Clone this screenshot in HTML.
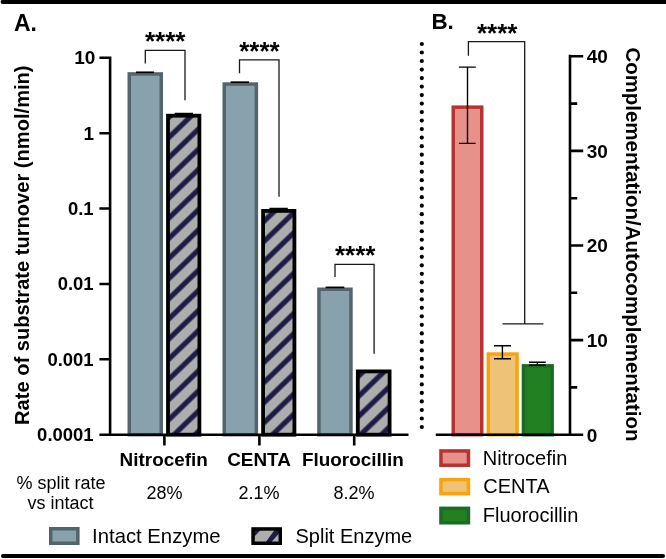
<!DOCTYPE html>
<html><head><meta charset="utf-8">
<style>
html,body{margin:0;padding:0;background:#fff;}
body{width:666px;height:559px;overflow:hidden;font-family:"Liberation Sans",sans-serif;}
svg{display:block;will-change:transform;}
text{font-family:"Liberation Sans",sans-serif;fill:#000;}
.b{font-weight:bold;}
</style></head><body>
<svg width="666" height="559" viewBox="0 0 666 559">
<defs>
<pattern id="h1" width="14.495" height="20" patternUnits="userSpaceOnUse" patternTransform="translate(170,136.4) rotate(46)"><rect width="14.495" height="20" fill="#adadad"/><rect x="0" y="0" width="2.55" height="20" fill="#1d1b47"/><rect x="11.945" y="0" width="2.65" height="20" fill="#1d1b47"/></pattern>
<pattern id="h2" width="14.495" height="20" patternUnits="userSpaceOnUse" patternTransform="translate(264.9,220.4) rotate(46)"><rect width="14.495" height="20" fill="#adadad"/><rect x="0" y="0" width="2.55" height="20" fill="#1d1b47"/><rect x="11.945" y="0" width="2.65" height="20" fill="#1d1b47"/></pattern>
<pattern id="h3" width="14.495" height="20" patternUnits="userSpaceOnUse" patternTransform="translate(359.6,395.3) rotate(46)"><rect width="14.495" height="20" fill="#adadad"/><rect x="0" y="0" width="2.55" height="20" fill="#1d1b47"/><rect x="11.945" y="0" width="2.65" height="20" fill="#1d1b47"/></pattern>
<pattern id="h4" width="14.495" height="20" patternUnits="userSpaceOnUse" patternTransform="translate(262,540) rotate(46)"><rect width="14.495" height="20" fill="#adadad"/><rect x="0" y="0" width="2.55" height="20" fill="#1d1b47"/><rect x="11.945" y="0" width="2.65" height="20" fill="#1d1b47"/></pattern>
</defs>
<rect width="666" height="559" fill="#fff"/>
<line x1="2.7" y1="1.9" x2="666" y2="1.9" stroke="#000" stroke-width="4.2" stroke-linecap="round"/>
<line x1="3" y1="556" x2="663" y2="556" stroke="#000" stroke-width="4" stroke-linecap="round"/>
<text x="14" y="31.3" class="b" font-size="23">A.</text>
<text class="b" font-size="20.1" text-anchor="middle" transform="translate(29.3,245.2) rotate(-90)">Rate of substrate turnover (nmol/min)</text>
<rect x="129.25" y="73.95" width="32.00" height="360.75" fill="#87a2ac" stroke="#53646b" stroke-width="3.5"/>
<rect x="224.25" y="84.05" width="32.10" height="350.65" fill="#87a2ac" stroke="#53646b" stroke-width="3.5"/>
<rect x="318.95" y="289.25" width="32.00" height="145.45" fill="#87a2ac" stroke="#53646b" stroke-width="3.5"/>
<rect x="168.00" y="115.70" width="31.40" height="319.00" fill="url(#h1)" stroke="#000" stroke-width="3.8"/>
<rect x="263.10" y="210.90" width="31.30" height="223.80" fill="url(#h2)" stroke="#000" stroke-width="3.8"/>
<rect x="357.80" y="371.40" width="31.80" height="63.30" fill="url(#h3)" stroke="#000" stroke-width="3.8"/>
<g stroke="#000" stroke-width="1.7">
<line x1="136" y1="72.3" x2="154" y2="72.3"/>
<line x1="174.7" y1="113.6" x2="193" y2="113.6"/>
<line x1="230.6" y1="82.2" x2="249" y2="82.2"/>
<line x1="269.4" y1="208.6" x2="287.8" y2="208.6"/>
<line x1="325.6" y1="287.4" x2="344.3" y2="287.4"/>
</g>
<path d="M110.1 56.5 V434.7 M108.8 434.7 H408.5 M99.4 57.80 H110.1 M99.4 133.18 H110.1 M99.4 208.56 H110.1 M99.4 283.94 H110.1 M99.4 359.32 H110.1 M99.4 434.70 H110.1 M164.4 434.7 V445.5 M259.4 434.7 V445.5 M354.2 434.7 V445.5 " stroke="#000" stroke-width="2.6" fill="none"/>
<g class="b" font-size="19" text-anchor="end">
<text x="95.4" y="64.30">10</text>
<text x="94.2" y="139.68">1</text>
<text x="93.6" y="215.06" textLength="25.67" lengthAdjust="spacingAndGlyphs">0.1</text>
<text x="93.6" y="290.44" textLength="35.94" lengthAdjust="spacingAndGlyphs">0.01</text>
<text x="93.6" y="365.82" textLength="46.21" lengthAdjust="spacingAndGlyphs">0.001</text>
<text x="93.6" y="441.20" textLength="56.49" lengthAdjust="spacingAndGlyphs">0.0001</text>
</g>
<g class="b" font-size="18.9" text-anchor="middle">
<text x="163.7" y="465.7">Nitrocefin</text><text x="259" y="465.7">CENTA</text><text x="352.9" y="465.7">Fluorocillin</text></g>
<g font-size="18" text-anchor="middle">
<text x="61.1" y="489">% split rate</text><text x="60.6" y="509">vs intact</text>
<text x="164.5" y="499">28%</text><text x="259" y="499">2.1%</text><text x="354" y="499">8.2%</text></g>
<g stroke="#1a1a1a" stroke-width="1.3" fill="none">
<path d="M145.3 63.5 V50.3 H185 V100.3"/>
<path d="M239.5 73.2 V59.9 H279 V196.8"/>
<path d="M335 277 V264.4 H374.1 V353.8"/>
<path d="M468.4 55.8 V41.7 H524.7 V323.8 M502.5 323.8 H543.4"/>
</g>
<g class="b" font-size="26">
<text x="145" y="49.8">****</text><text x="239.2" y="59.5">****</text><text x="335" y="263.9">****</text><text x="477" y="41.8">****</text></g>
<rect x="50.75" y="528.75" width="27.10" height="14.50" fill="#87a2ac" stroke="#53646b" stroke-width="3.5"/>
<text x="92.1" y="543" font-size="20.3">Intact Enzyme</text>
<rect x="253" y="529" width="27.5" height="14.5" fill="#adadad"/>
<path d="M254 530 H260.6 L254 537 Z M265.8 542 H271.4 L279 533.4 V530 H274.6 Z" fill="#1d1b47"/>
<rect x="253.05" y="528.95" width="27.20" height="14.30" fill="none" stroke="#000" stroke-width="3.5"/>
<text x="295.5" y="542.6" font-size="20">Split Enzyme</text>
<text x="431.4" y="29.4" class="b" font-size="22.4">B.</text>
<g fill="#000">
<circle cx="421.8" cy="44.00" r="2.1"/>
<circle cx="421.8" cy="52.51" r="2.1"/>
<circle cx="421.8" cy="61.02" r="2.1"/>
<circle cx="421.8" cy="69.53" r="2.1"/>
<circle cx="421.8" cy="78.04" r="2.1"/>
<circle cx="421.8" cy="86.56" r="2.1"/>
<circle cx="421.8" cy="95.07" r="2.1"/>
<circle cx="421.8" cy="103.58" r="2.1"/>
<circle cx="421.8" cy="112.09" r="2.1"/>
<circle cx="421.8" cy="120.60" r="2.1"/>
<circle cx="421.8" cy="129.11" r="2.1"/>
<circle cx="421.8" cy="137.62" r="2.1"/>
<circle cx="421.8" cy="146.13" r="2.1"/>
<circle cx="421.8" cy="154.64" r="2.1"/>
<circle cx="421.8" cy="163.16" r="2.1"/>
<circle cx="421.8" cy="171.67" r="2.1"/>
<circle cx="421.8" cy="180.18" r="2.1"/>
<circle cx="421.8" cy="188.69" r="2.1"/>
<circle cx="421.8" cy="197.20" r="2.1"/>
<circle cx="421.8" cy="205.71" r="2.1"/>
<circle cx="421.8" cy="214.22" r="2.1"/>
<circle cx="421.8" cy="222.73" r="2.1"/>
<circle cx="421.8" cy="231.24" r="2.1"/>
<circle cx="421.8" cy="239.76" r="2.1"/>
<circle cx="421.8" cy="248.27" r="2.1"/>
<circle cx="421.8" cy="256.78" r="2.1"/>
<circle cx="421.8" cy="265.29" r="2.1"/>
<circle cx="421.8" cy="273.80" r="2.1"/>
<circle cx="421.8" cy="282.31" r="2.1"/>
<circle cx="421.8" cy="290.82" r="2.1"/>
<circle cx="421.8" cy="299.33" r="2.1"/>
<circle cx="421.8" cy="307.84" r="2.1"/>
<circle cx="421.8" cy="316.36" r="2.1"/>
<circle cx="421.8" cy="324.87" r="2.1"/>
<circle cx="421.8" cy="333.38" r="2.1"/>
<circle cx="421.8" cy="341.89" r="2.1"/>
<circle cx="421.8" cy="350.40" r="2.1"/>
<circle cx="421.8" cy="358.91" r="2.1"/>
<circle cx="421.8" cy="367.42" r="2.1"/>
<circle cx="421.8" cy="375.93" r="2.1"/>
<circle cx="421.8" cy="384.44" r="2.1"/>
<circle cx="421.8" cy="392.96" r="2.1"/>
<circle cx="421.8" cy="401.47" r="2.1"/>
<circle cx="421.8" cy="409.98" r="2.1"/>
<circle cx="421.8" cy="418.49" r="2.1"/>
<circle cx="421.8" cy="427.00" r="2.1"/>
</g>
<rect x="453.25" y="107.15" width="28.50" height="327.55" fill="#e7918b" stroke="#b93232" stroke-width="3.5"/>
<rect x="488.25" y="354.05" width="28.80" height="80.65" fill="#efc375" stroke="#fba30d" stroke-width="3.5"/>
<rect x="523.45" y="365.85" width="28.70" height="68.85" fill="#21801f" stroke="#1d6a27" stroke-width="3.5"/>
<g stroke="#000" stroke-width="1.4" fill="none">
<path d="M458.9 67.1 H475.8 M467.5 67.1 V143.4 M458.9 143.4 H475.7"/>
<path d="M494 345.8 H511 M502.4 345.8 V358.7 M494 358.7 H511"/>
<path d="M529 362.3 H545.8 M537.4 362.3 V365.2 M529 365.2 H545.8"/>
</g>
<path d="M435.8 434.7 H571.3 M570 54.7 V434.7 M570 56.30 H583.2 M570 103.60 H577.2 M570 150.90 H583.2 M570 198.20 H577.2 M570 245.50 H583.2 M570 292.80 H577.2 M570 340.10 H583.2 M570 387.40 H577.2 M570 434.70 H583.2 " stroke="#000" stroke-width="2.6" fill="none"/>
<g class="b" font-size="19">
<text x="586.8" y="63.10">40</text>
<text x="586.8" y="157.70">30</text>
<text x="586.8" y="252.30">20</text>
<text x="586.8" y="346.90">10</text>
<text x="586.8" y="441.50">0</text>
</g>
<text class="b" font-size="20.45" text-anchor="middle" transform="translate(626.3,244.4) rotate(90)">Complementation/Autocomplementation</text>
<rect x="440.95" y="450.95" width="27.50" height="14.30" fill="#e7918b" stroke="#b93232" stroke-width="3.5"/>
<rect x="440.95" y="479.65" width="27.50" height="14.00" fill="#efc375" stroke="#fba30d" stroke-width="3.5"/>
<rect x="440.95" y="508.35" width="27.50" height="14.40" fill="#21801f" stroke="#1d6a27" stroke-width="3.5"/>
<g font-size="20"><text x="482.8" y="464.7">Nitrocefin</text><text x="483.3" y="493.4">CENTA</text><text x="482.8" y="521.8">Fluorocillin</text></g>
</svg></body></html>
